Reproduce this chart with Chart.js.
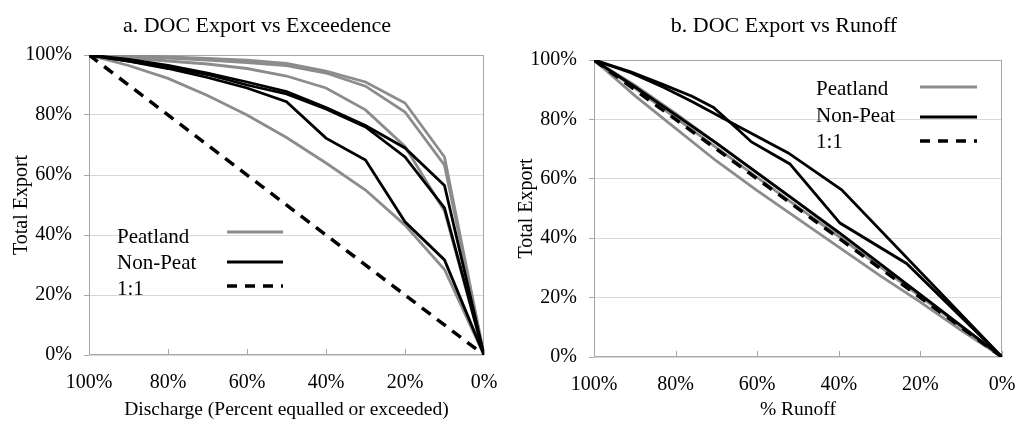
<!DOCTYPE html>
<html>
<head>
<meta charset="utf-8">
<script src="https://cdn.jsdelivr.net/npm/chart.js@4/dist/chart.umd.min.js"></script>
<style>
  html, body { margin: 0; padding: 0; background: #fff; }
  .wrap { display: flex; width: 1018px; height: 426px; }
  canvas { display: block; }
</style>
</head>
<body>
<div class="wrap">
  <canvas id="chartA" width="509" height="426"></canvas>
  <canvas id="chartB" width="509" height="426"></canvas>
</div>
<script>
// a. DOC export vs exceedence
const exceedPct = [100, 90, 80, 70, 60, 50, 40, 30, 20, 10, 0];
const peatA1 = [100, 99.8, 99.4, 98.9, 98.3, 97.2, 94.6, 91, 84, 66, 0];
const peatA2 = [100, 99.5, 99, 98.3, 97.5, 96.5, 94, 89.6, 81, 63.3, 0];
const peatA3 = [100, 99, 98, 97, 95.5, 93, 89, 81.7, 69.5, 48, 0];
const peatA4 = [100, 96.5, 92.2, 86.5, 80, 72.5, 64, 55, 43.3, 28.5, 0];
const nonPeatA1 = [100, 98.5, 96.5, 94, 91, 87.8, 82.5, 76.5, 69, 56.5, 0];
const nonPeatA2 = [100, 98, 96, 93.5, 90, 87, 82, 76, 66, 49, 0];
const nonPeatA3 = [100, 98, 95.5, 92.5, 89, 84.4, 72.3, 65, 44.4, 31.7, 0];

// b. DOC export vs runoff
const runoffPct = [100, 90, 80, 70, 60, 50, 40, 30, 20, 10, 0];
const peatB1 = [100, 91.5, 82, 72, 62, 52, 41.5, 31, 21, 10.5, 0];
const peatB2 = [100, 90.5, 80.5, 70.5, 60.5, 50.5, 40.5, 30.5, 20.3, 10.2, 0];
const peatB3 = [100, 88, 77, 66, 56, 46.5, 37, 27.5, 18.5, 9, 0];
const nonPeatB1x = [100, 91, 83, 76, 70.7, 64.7, 61.4, 52, 39.7, 23.4, 0];
const nonPeatB1y = [100, 96, 91.7, 87.8, 84, 76.6, 72.4, 65, 45.1, 31.5, 0];
const nonPeatB2x = [100, 91, 83, 76, 67, 52.4, 39.3, 0];
const nonPeatB2y = [100, 95.7, 90.8, 86, 79.4, 68.7, 56.3, 0];
const nonPeatB3 = [100, 91, 81.5, 72, 62, 52, 42, 31.5, 21, 10.5, 0];

const oneToOne = [100, 0];
const tickPct = [0, 20, 40, 60, 80, 100];
const legendLabels = ['Peatland', 'Non-Peat', '1:1'];

const GRAY = '#8c8c8c';
const BLACK = '#000000';
const SERIF = '"Liberation Serif", "Times New Roman", serif';

function pts(xs, ys) {
  return xs.map((x, i) => ({ x: x, y: ys[i] }));
}
function line(data, color, dash) {
  return {
    data: data,
    borderColor: color,
    borderWidth: dash ? 3.5 : 2.8,
    borderDash: dash || [],
    pointRadius: 0,
    fill: false,
    tension: 0
  };
}

// plot border, inner x tick marks, title and hand-placed legend
const panelDeco = {
  id: 'panelDeco',
  beforeDatasetsDraw(chart, args, opts) {
    const ctx = chart.ctx, a = chart.chartArea, x = chart.scales.x;
    ctx.save();
    ctx.strokeStyle = '#a6a6a6';
    ctx.lineWidth = 1;
    ctx.strokeRect(Math.round(a.left) + 0.5, Math.round(a.top) + 0.5,
      Math.round(a.width) - 1, Math.round(a.height) - 1);
    ctx.beginPath();
    tickPct.forEach(v => {
      const px = Math.round(x.getPixelForValue(v)) + 0.5;
      ctx.moveTo(px, a.bottom);
      ctx.lineTo(px, a.bottom - 6);
    });
    ctx.stroke();
    ctx.restore();
  },
  afterDraw(chart, args, opts) {
    const ctx = chart.ctx;
    ctx.save();
    ctx.fillStyle = '#000';
    ctx.font = '22px ' + SERIF;
    ctx.textAlign = 'center';
    ctx.textBaseline = 'alphabetic';
    ctx.fillText(opts.title, opts.titleX, opts.titleY);

    const lg = opts.legend;
    ctx.font = '21px ' + SERIF;
    ctx.textAlign = 'left';
    ctx.textBaseline = 'middle';
    legendLabels.forEach((label, i) => {
      ctx.fillStyle = '#000';
      ctx.fillText(label, lg.textX, lg.rowY[i]);
      ctx.beginPath();
      ctx.strokeStyle = [GRAY, BLACK, BLACK][i];
      ctx.lineWidth = i === 2 ? 3.5 : 2.8;
      ctx.setLineDash(i === 2 ? [10, 8] : []);
      ctx.moveTo(lg.lineX1, lg.lineY[i]);
      ctx.lineTo(lg.lineX2, lg.lineY[i]);
      ctx.stroke();
    });
    ctx.restore();
  }
};

function scales(yWidth, yTitlePad, xHeight, xTitle, xTitlePad) {
  return {
    x: {
      type: 'linear',
      reverse: true,
      min: 0,
      max: 100,
      afterBuildTicks: s => { s.ticks = tickPct.map(v => ({ value: v })); },
      afterFit: s => { s.height = xHeight; },
      grid: { drawOnChartArea: false, drawTicks: false },
      border: { display: false },
      ticks: {
        padding: 16,
        color: '#000',
        font: { family: SERIF, size: 20 },
        callback: v => v + '%'
      },
      title: {
        display: true,
        text: xTitle,
        color: '#000',
        font: { family: SERIF, size: 19.5 },
        padding: { top: 0, bottom: xTitlePad }
      }
    },
    y: {
      type: 'linear',
      min: 0,
      max: 100,
      afterBuildTicks: s => { s.ticks = tickPct.map(v => ({ value: v })); },
      afterFit: s => { s.width = yWidth; },
      grid: { color: '#d9d9d9', tickLength: 5, tickColor: '#a6a6a6' },
      border: { display: false },
      ticks: {
        padding: 12,
        color: '#000',
        font: { family: SERIF, size: 20 },
        callback: v => v + '%'
      },
      title: {
        display: true,
        text: 'Total Export',
        color: '#000',
        font: { family: SERIF, size: 20 },
        padding: { top: yTitlePad, bottom: 0 }
      }
    }
  };
}

new Chart(document.getElementById('chartA'), {
  type: 'line',
  data: {
    datasets: [
      line(pts(oneToOne, oneToOne), BLACK, [11, 8]),
      line(pts(exceedPct, nonPeatA1), BLACK),
      line(pts(exceedPct, nonPeatA2), BLACK),
      line(pts(exceedPct, nonPeatA3), BLACK),
      line(pts(exceedPct, peatA1), GRAY),
      line(pts(exceedPct, peatA2), GRAY),
      line(pts(exceedPct, peatA3), GRAY),
      line(pts(exceedPct, peatA4), GRAY)
    ]
  },
  options: {
    responsive: false,
    animation: false,
    layout: { padding: { top: 55, right: 25, bottom: 0, left: 0 } },
    plugins: {
      legend: { display: false },
      tooltip: { enabled: false },
      panelDeco: {
        title: 'a. DOC Export vs Exceedence',
        titleX: 257,
        titleY: 32,
        legend: { textX: 117, lineX1: 227, lineX2: 283, rowY: [237, 263, 289], lineY: [232, 262, 286] }
      }
    },
    scales: scales(89, 10, 71, 'Discharge (Percent equalled or exceeded)', 4)
  },
  plugins: [panelDeco]
});

new Chart(document.getElementById('chartB'), {
  type: 'line',
  data: {
    datasets: [
      line(pts(oneToOne, oneToOne), BLACK, [11, 8]),
      line(pts(nonPeatB1x, nonPeatB1y), BLACK),
      line(pts(nonPeatB2x, nonPeatB2y), BLACK),
      line(pts(runoffPct, nonPeatB3), BLACK),
      line(pts(runoffPct, peatB1), GRAY),
      line(pts(runoffPct, peatB2), GRAY),
      line(pts(runoffPct, peatB3), GRAY)
    ]
  },
  options: {
    responsive: false,
    animation: false,
    layout: { padding: { top: 60, right: 16, bottom: 0, left: 0 } },
    plugins: {
      legend: { display: false },
      tooltip: { enabled: false },
      panelDeco: {
        title: 'b. DOC Export vs Runoff',
        titleX: 275,
        titleY: 32,
        legend: { textX: 307, lineX1: 411, lineX2: 468, rowY: [89, 116, 142], lineY: [87, 117, 141] }
      }
    },
    scales: scales(85, 6, 69, '% Runoff', 4)
  },
  plugins: [panelDeco]
});
</script>
</body>
</html>
